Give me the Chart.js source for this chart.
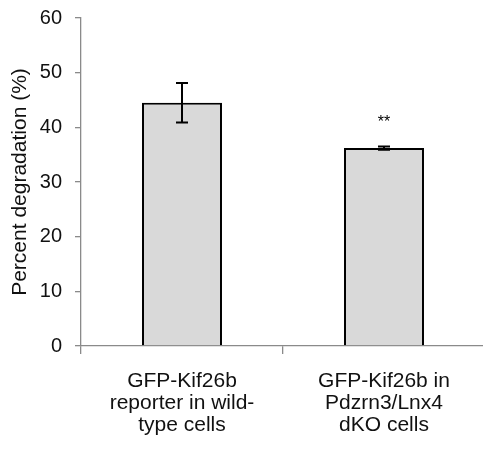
<!DOCTYPE html>
<html>
<head>
<meta charset="utf-8">
<script src="https://cdn.jsdelivr.net/npm/chart.js"></script>
<style>
  html, body { margin: 0; padding: 0; background: #fff; overflow: hidden; }
  #wrap { width: 483px; height: 463px; overflow: hidden; }
</style>
</head>
<body>
<div id="wrap"><canvas id="chart" width="490" height="463"></canvas></div>
<script>
// values
const categories = [
  ['GFP-Kif26b', 'reporter in wild-', 'type cells'],
  ['GFP-Kif26b in', 'Pdzrn3/Lnx4', 'dKO cells']
];
const degradation = [44.5, 36.2];
const errors = [3.6, 0.3];
const marks = ['', '**'];
const yTicks = [0, 10, 20, 30, 40, 50, 60];

const font = 'Arial, "Liberation Sans", sans-serif';

// draws error bars and significance stars on top of the bars
const errorBars = {
  id: 'errorBars',
  afterDatasetsDraw(chart) {
    const ctx = chart.ctx;
    const meta = chart.getDatasetMeta(0);
    const y = chart.scales.y;
    ctx.save();
    ctx.strokeStyle = '#000';
    ctx.lineWidth = 2;
    meta.data.forEach((bar, i) => {
      const top = y.getPixelForValue(degradation[i] + errors[i]);
      const bot = y.getPixelForValue(degradation[i] - errors[i]);
      ctx.beginPath();
      ctx.moveTo(bar.x, top); ctx.lineTo(bar.x, bot);
      ctx.moveTo(bar.x - 6, top); ctx.lineTo(bar.x + 6, top);
      ctx.moveTo(bar.x - 6, bot); ctx.lineTo(bar.x + 6, bot);
      ctx.stroke();
      if (marks[i]) {
        ctx.fillStyle = '#000';
        ctx.font = '16px ' + font;
        ctx.textAlign = 'center';
        ctx.textBaseline = 'middle';
        ctx.fillText(marks[i], bar.x, top - 24);
      }
    });
    ctx.restore();
  }
};

new Chart(document.getElementById('chart').getContext('2d'), {
  type: 'bar',
  data: {
    labels: categories,
    datasets: [{
      data: degradation,
      backgroundColor: '#d9d9d9',
      borderColor: '#000',
      borderWidth: 2,
      barPercentage: 0.8,
      categoryPercentage: 0.495
    }]
  },
  options: {
    responsive: false,
    animation: false,
    layout: { padding: { top: 18, right: 5, left: 0, bottom: 0 } },
    plugins: { legend: { display: false }, tooltip: { enabled: false } },
    scales: {
      x: {
        offset: true,
        grid: { display: true, drawOnChartArea: false, offset: true, tickLength: 8, color: '#8a8a8a', lineWidth: 1.3 },
        border: { color: '#8a8a8a', width: 1.3 },
        ticks: { color: '#111', font: { family: font, size: 21, lineHeight: 1.05 }, padding: 16, maxRotation: 0, autoSkip: false },
        afterFit(scale) { scale.height = 117; scale.paddingLeft = 0; scale.paddingRight = 0; }
      },
      y: {
        min: 0,
        max: 60,
        afterBuildTicks(scale) { scale.ticks = yTicks.map(v => ({ value: v })); },
        grid: { display: true, drawOnChartArea: false, tickLength: 6, color: '#8a8a8a', lineWidth: 1.3 },
        border: { color: '#8a8a8a', width: 1.3 },
        ticks: { color: '#111', font: { family: font, size: 20 }, padding: 13 },
        title: { display: true, text: 'Percent degradation (%)', color: '#111', font: { family: font, size: 21 }, padding: { top: 8, bottom: 0 } },
        afterFit(scale) { scale.width = 81; scale.paddingTop = 0; scale.paddingBottom = 0; }
      }
    }
  },
  plugins: [errorBars]
});
</script>
</body>
</html>
